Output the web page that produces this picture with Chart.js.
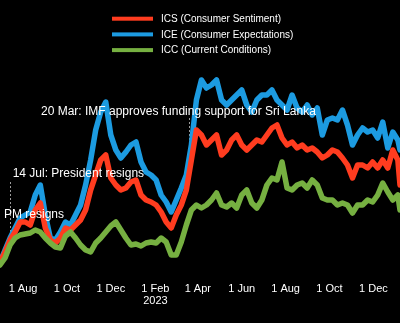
<!DOCTYPE html>
<html><head><meta charset="utf-8">
<script src="https://cdn.jsdelivr.net/npm/chart.js@4/dist/chart.umd.min.js"></script>
<style>html,body{margin:0;padding:0;background:#000;overflow:hidden}#wrap{width:400px;height:323px;position:relative}</style>
</head><body><div id="wrap"><canvas id="c" width="400" height="323"></canvas></div>
<script>
// x values: days since 30 Jun 2022 (weekly readings)
const dayOffsets = [0,7,14,21,28,35,42,49,56,63,70,77,84,91,98,105,112,119,126,133,140,147,154,161,168,175,182,189,196,203,210,217,224,231,238,245,252,259,266,273,280,287,294,301,308,315,322,329,336,343,350,357,364,371,378,385,392,399,406,413,420,427,434,441,448,455,462,469,476,483,490,497,504,511,518,525,532,539,546,553,556];

const seriesLabels = ['ICS (Consumer Sentiment)','ICE (Consumer Expectations)','ICC (Current Conditions)'];

const icsValues = [19,24,30,34,39,39,37.5,45,48.5,36,
 30,28.5,31,36,35,37.5,40,45,55,62.5,
 70,72.5,61,57.5,55,56,59,60,52.5,50,
 49,47.5,44,39,36,42.5,47.5,55,70,85,
 82.5,77.5,80,82.5,72.5,75,80,82.5,77.5,75,
 77.5,80,79,82.5,86,87.5,81,77.5,79,76,
 77.5,75,76,74,71,72.5,75,74,71,67.5,
 61,67.5,67.5,66,69,66,70,66,75,70,
 57.5];

const iceValues = [19,25,31,36,41,42.5,44,52.5,57.5,42.5,
 31,30,34,39,37.5,42.5,47.5,57.5,70,85,
 94,99,82.5,75,71,74,77.5,79,69,64,
 62.5,60,52.5,49,44,50,56,62.5,77.5,100,
 110,106,107.5,110,100,97.5,100,102.5,105,97.5,
 94,100,102.5,102.5,105,100,97.5,95,102.5,96,
 94,97.5,92.5,96,82.5,90,91,90,95,87.5,
 77.5,82.5,86,84,85,81,89,76,84,80,
 75];

const iccValues = [17.5,21,27.5,31,32.5,33,33.5,35,34,31,
 28.5,26.5,26,32,34,31,27.5,25,24,28.5,
 31,34,37,39,35,31,27.5,28,27,28.5,
 29,28.5,31,29,22.5,22.5,29,37.5,45,47.5,
 46,47.5,50,53.5,47.5,46.5,48.5,46,52.5,55,
 48.5,46,50,57.5,61,60,69,56,55,57.5,
 58.5,56,60,57.5,51,50,50,47.5,48.5,47.5,
 43.5,47.5,47.5,50,49,52.5,58.5,54,50,52.5,
 45];

// x-axis tick positions (days since 30 Jun 2022) and their labels
const tickDays = [32,93,154,216,275,336,397,458,519];
const tickLabels = ['1 Aug','1 Oct','1 Dec',['1 Feb','2023'],'1 Apr','1 Jun','1 Aug','1 Oct','1 Dec'];

// event annotations
const eventDays = [14, 263];
const eventTexts = ['14 Jul: President resigns','20 Mar: IMF approves funding support for Sri Lanka','PM resigns'];

const COLORS = {ics:'#ff3c1f', ice:'#1c9be1', icc:'#76b041'};
const FONT = '"Liberation Sans", Arial, sans-serif';

function pts(vals){ return dayOffsets.map((d,i)=>({x:d, y:vals[i]})); }

const bgPlugin = {
  id:'bg',
  beforeDraw(chart){ const c=chart.ctx; c.save(); c.fillStyle='#000'; c.fillRect(0,0,chart.width,chart.height); c.restore(); }
};

const annoPlugin = {
  id:'anno',
  beforeDatasetsDraw(chart){
    const c=chart.ctx, xs=chart.scales.x, ys=chart.scales.y;
    const lines = [
      {day:eventDays[0], from:59, to:30},
      {day:eventDays[1], from:91, to:75}
    ];
    c.save();
    c.strokeStyle='#9a9a9a'; c.lineWidth=1; c.setLineDash([2,2]);
    lines.forEach(l=>{
      const x=Math.round(xs.getPixelForValue(l.day))+0.5;
      c.beginPath(); c.moveTo(x, ys.getPixelForValue(l.from)); c.lineTo(x, ys.getPixelForValue(l.to)); c.stroke();
    });
    c.restore();
  },
  afterDatasetsDraw(chart){
    const c=chart.ctx, xs=chart.scales.x, ys=chart.scales.y;
    const texts = [
      {t:eventTexts[0], day:17.6, v:61.5},
      {t:eventTexts[1], day:57, v:92.5},
      {t:eventTexts[2], day:5.6, v:41}
    ];
    c.save();
    c.font='12px '+FONT; c.fillStyle='#ffffff'; c.textBaseline='alphabetic'; c.textAlign='left';
    texts.forEach(o=>{ c.fillText(o.t, xs.getPixelForValue(o.day), ys.getPixelForValue(o.v)); });
    c.restore();
  }
};

const legendPlugin = {
  id:'customLegend',
  afterDraw(chart){
    const c=chart.ctx;
    const left=112, boxW=41, top=18.7, row=15.7;
    c.save();
    c.font='10px '+FONT; c.textBaseline='middle'; c.textAlign='left';
    chart.data.datasets.forEach((ds,i)=>{
      const y = top + i*row;
      c.fillStyle=ds.borderColor; c.fillRect(left, y-2, boxW, 4);
      c.fillStyle='#ffffff'; c.fillText(ds.label, left+boxW+8, y+0.5);
    });
    c.restore();
  }
};

new Chart(document.getElementById('c').getContext('2d'), {
  type:'line',
  data:{ datasets:[
    {label:seriesLabels[0], data:pts(icsValues), borderColor:COLORS.ics, backgroundColor:COLORS.ics, order:1},
    {label:seriesLabels[1], data:pts(iceValues), borderColor:COLORS.ice, backgroundColor:COLORS.ice, order:2},
    {label:seriesLabels[2], data:pts(iccValues), borderColor:COLORS.icc, backgroundColor:COLORS.icc, order:0}
  ]},
  options:{
    responsive:false, animation:false, devicePixelRatio:1,
    layout:{padding:{top:60,left:0,right:0,bottom:0}},
    elements:{point:{radius:0}, line:{borderWidth:5.5, tension:0, borderJoinStyle:'round', borderCapStyle:'round'}},
    plugins:{legend:{display:false}, tooltip:{enabled:false}},
    scales:{
      x:{type:'linear', min:0, max:556, offset:false,
        afterBuildTicks:(s)=>{ s.ticks = tickDays.map(v=>({value:v})); },
        afterFit:(s)=>{ s.height = 48; },
        grid:{display:false, drawTicks:false}, border:{display:false},
        ticks:{color:'#ffffff', font:{size:11, family:FONT, lineHeight:1.1}, padding:8, maxRotation:0, autoSkip:false,
          callback:(v)=>{ const i=tickDays.indexOf(v); return i>=0 ? tickLabels[i] : ''; }}
      },
      y:{display:false, min:12.5, max:120}
    }
  },
  plugins:[bgPlugin, annoPlugin, legendPlugin]
});
</script></body></html>
